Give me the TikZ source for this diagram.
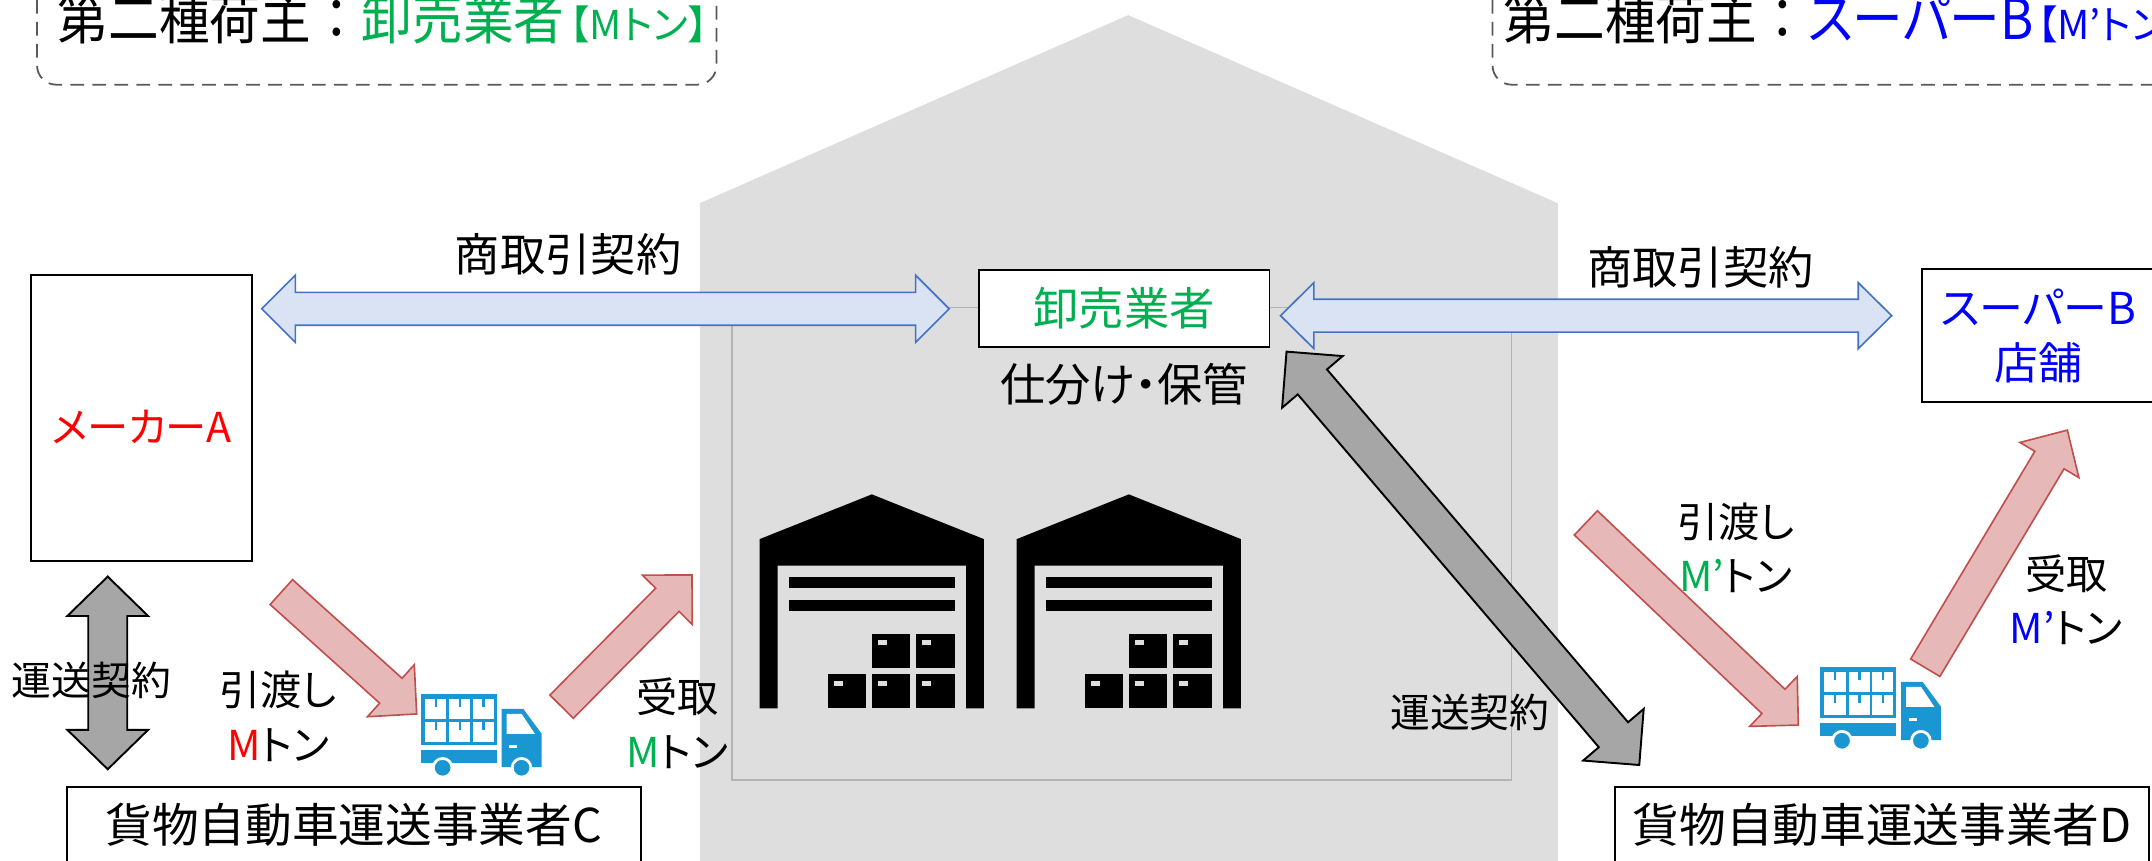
\documentclass[tikz,border=0pt]{standalone}
\usepackage{fontspec}
\setmainfont{Noto Sans CJK JP}[RawFeature=+palt]
\newfontfamily\titlejp{Noto Sans CJK JP}[FakeStretch=0.9, RawFeature=+palt]
\newfontfamily\titlewide{Noto Sans CJK JP}[FakeStretch=0.9]
\usetikzlibrary{calc,positioning}

\definecolor{housegray}{HTML}{DEDEDE}
\definecolor{framegray}{HTML}{B4B4B4}
\definecolor{dashgray}{HTML}{595959}
\definecolor{okgreen}{HTML}{00B050}
\definecolor{okblue}{HTML}{0000FF}
\definecolor{okred}{HTML}{FF0000}
\definecolor{dealfill}{HTML}{DAE3F3}
\definecolor{dealline}{HTML}{4472C4}
\definecolor{flowfill}{HTML}{E6B9B8}
\definecolor{flowline}{HTML}{C0504D}
\definecolor{contractfill}{HTML}{A6A6A6}
\definecolor{truckblue}{HTML}{1A96D2}

\newcommand{\fs}[1]{\fontsize{#1}{#1}\selectfont}

% block arrow with a head at both ends: style, from, to, half shaft, half head, head length
\newcommand{\twoheads}[6]{%
  \coordinate (hA) at ($(#2)!#6!(#3)$);
  \coordinate (hB) at ($(#3)!#6!(#2)$);
  \draw[#1] (#2) -- ($(hA)!#5!90:(#3)$) -- ($(hA)!#4!90:(#3)$)
    -- ($(hB)!#4!90:(#3)$) -- ($(hB)!#5!90:(#3)$) -- (#3)
    -- ($(hB)!#5!-90:(#3)$) -- ($(hB)!#4!-90:(#3)$)
    -- ($(hA)!#4!-90:(#3)$) -- ($(hA)!#5!-90:(#3)$) -- cycle;}
% block arrow with one head
\newcommand{\onehead}[6]{%
  \coordinate (hB) at ($(#3)!#6!(#2)$);
  \draw[#1] ($(#2)!#4!90:(#3)$) -- ($(hB)!#4!90:(#3)$) -- ($(hB)!#5!90:(#3)$)
    -- (#3) -- ($(hB)!#5!-90:(#3)$) -- ($(hB)!#4!-90:(#3)$)
    -- ($(#2)!#4!-90:(#3)$) -- cycle;}

% truck icon, origin at top left of the load
\newcommand{\truck}[1]{%
  \begin{scope}[shift={(#1)}]
    \fill[truckblue] (0,0) rectangle (55.4,36.9);
    \foreach \cx in {3.2,20.8,37.9}
      \foreach \cy in {3.6,20.6} {
        \fill[white] (\cx,\cy) rectangle +(15.5,14.6);
        \fill[truckblue] (\cx+6.9,\cy) rectangle +(1.8,6);
      }
    \fill[truckblue] (0,40.8) rectangle (55.4,50.5);
    \fill[truckblue] (59,10.9) -- (74.8,10.9) -- (88.2,29.1) -- (88.2,53.4) -- (59,53.4) -- cycle;
    \fill[white] (62.7,14.6) -- (73.6,14.6) -- (83.3,29.1) -- (62.7,29.1) -- cycle;
    \fill[white] (64.6,36.9) rectangle (70.4,39.4);
    \foreach \wx in {16,73.5}
      \filldraw[fill=truckblue, draw=white, line width=2pt] (\wx,53.8) circle (6.8);
  \end{scope}}

% warehouse icon, origin at top left
\newcommand{\storage}[1]{%
  \begin{scope}[shift={(#1)}]
    \fill (0,32.6) -- (81.7,0) -- (163.4,32.6) -- (163.4,156) -- (150.4,156) -- (150.4,52)
      -- (13,52) -- (13,156) -- (0,156) -- cycle;
    \fill (21.5,60.5) rectangle (142,68.5);
    \fill (21.5,77.3) rectangle (142,85.3);
    \foreach \bx/\by in {81.9/101.8,114.2/101.8,49.7/131.2,81.9/131.2,114.2/131.2} {
      \fill (\bx,\by) rectangle +(27.9,24.8);
      \fill[housegray] (\bx+4.2,\by+4.6) rectangle +(6.5,3.6);
    }
  \end{scope}}

\begin{document}
\begin{tikzpicture}[x=1pt, y=-1pt,
    box/.style={draw, fill=white, line width=1.4pt, inner sep=0pt},
    lbl/.style={inner sep=0pt, font=\fs{30}},
    deal/.style={draw=dealline, fill=dealfill, line width=1.2pt},
    flow/.style={draw=flowline, fill=flowfill, line width=1.2pt},
    contract/.style={draw=black, fill=contractfill, line width=1.4pt},
    owner/.style={draw=dashgray, line width=1.3pt, dash pattern=on 10pt off 6pt, rounded corners=14pt}]
  \useasboundingbox (0,0) rectangle (1568,627);
  \clip (0,0) rectangle (1568,627);

  % warehouse
  \fill[housegray] (510,640) -- (510,148) -- (822,11) -- (1135,148) -- (1135,640) -- cycle;
  \draw[framegray, line width=1.2pt] (533.5,224.1) rectangle (1101.4,568.3);
  \storage{553.5,360.2}
  \storage{740.8,360.2}

  % shippers of the second kind
  \draw[owner] (27,-30) rectangle (522,61.7);
  \draw[owner] (1087.5,-30) rectangle (1620,61.7);
  \node[anchor=base west, inner sep=0pt, font=\titlejp\fs{41}] (ownerL) at (42,29)
    {第二種荷主{\titlewide ：}\textcolor{okgreen}{卸売業者\hspace{4pt}{\rmfamily\fs{29}【Mトン】}}};
  \node[anchor=base west, inner sep=0pt, font=\titlejp\fs{41}] (ownerR) at (1095.5,29)
    {第二種荷主{\titlewide ：}\textcolor{okblue}{スーパーB\hspace{3pt}{\rmfamily\fs{29}【M’トン】}}};

  % parties
  \node[box, minimum width=161.3pt, minimum height=208.3pt, text height=35pt, text depth=0pt,
    text=okred, font=\fs{30}] (maker) at (103.2,304.6) {メーカーA};
  \node[box, minimum width=212pt, minimum height=56.3pt, text=okgreen, font=\fs{33}] (oroshi) at (819,224.9) {卸売業者};
  \node[lbl, font=\fs{33}, below=11pt of oroshi] (sort) {仕分け・保管};
  \node[box, minimum width=169.4pt, minimum height=97.2pt, text=okblue, align=center,
    font=\fontsize{32}{40}\selectfont] (super) at (1485.3,244.6) {スーパーB\\店舗};
  \node[box, minimum width=418.2pt, minimum height=56pt, font=\fs{34}] (carrierC) at (257.7,601.2) {貨物自動車運送事業者C};
  \node[box, minimum width=389pt, minimum height=56pt, font=\fs{34}] (carrierD) at (1371.5,601.2) {貨物自動車運送事業者D};

  % arrow ends
  \coordinate (dealLa) at (190.7,225);   \coordinate (dealLb) at (691.6,225);
  \coordinate (dealRa) at (933,230);     \coordinate (dealRb) at (1378.3,230);
  \coordinate (carLa) at (78.5,420.1);   \coordinate (carLb) at (78.5,560.5);
  \coordinate (carRa) at (937.4,256.2);  \coordinate (carRb) at (1194.4,557.4);
  \coordinate (passLa) at (205,431.4);   \coordinate (passLb) at (303.6,520.2);
  \coordinate (takeLa) at (409.2,514.9); \coordinate (takeLb) at (504.2,418.9);
  \coordinate (passRa) at (1155.5,381);  \coordinate (passRb) at (1310.3,528.3);
  \coordinate (takeRa) at (1402.8,486.5); \coordinate (takeRb) at (1506.3,313.4);

  \twoheads{deal}{dealLa}{dealLb}{12pt}{24.5pt}{24.5pt}
  \twoheads{deal}{dealRa}{dealRb}{12pt}{24pt}{24.3pt}
  \twoheads{contract}{carLa}{carLb}{14.2pt}{29.4pt}{28.7pt}
  \twoheads{contract}{carRa}{carRb}{14pt}{29pt}{29pt}
  \onehead{flow}{passLa}{passLb}{12.2pt}{25.5pt}{25.3pt}
  \onehead{flow}{takeLa}{takeLb}{12pt}{25.5pt}{25.5pt}
  \onehead{flow}{passRa}{passRb}{12.2pt}{25.1pt}{25pt}
  \onehead{flow}{takeRa}{takeRb}{12.4pt}{25pt}{25.4pt}

  \truck{306.5,505.6}
  \truck{1326.1,485.9}

  % labels
  \node[lbl, font=\fs{33}] (dealLt) at (414,185) {商取引契約};
  \node[lbl, font=\fs{33}] (dealRt) at (1239,195) {商取引契約};
  \node[lbl, font=\fs{29}] (carLt) at (66.5,495.5) {運送契約};
  \node[lbl, font=\fs{29}] (carRt) at (1071,519) {運送契約};
  \node[lbl] (passLt) at (202.8,502.5) {引渡し};
  \node[lbl, below=14pt of passLt] (passLm) {\textcolor{okred}{M}トン};
  \node[lbl] (takeLt) at (493.5,508) {受取};
  \node[lbl, below=14pt of takeLt] (takeLm) {\textcolor{okgreen}{M}トン};
  \node[lbl] (passRt) at (1264.7,380.5) {引渡し};
  \node[lbl, below=13pt of passRt] (passRm) {\textcolor{okgreen}{M’}トン};
  \node[lbl] (takeRt) at (1505.5,418) {受取};
  \node[lbl, below=13pt of takeRt] (takeRm) {\textcolor{okblue}{M’}トン};
\end{tikzpicture}
\end{document}
